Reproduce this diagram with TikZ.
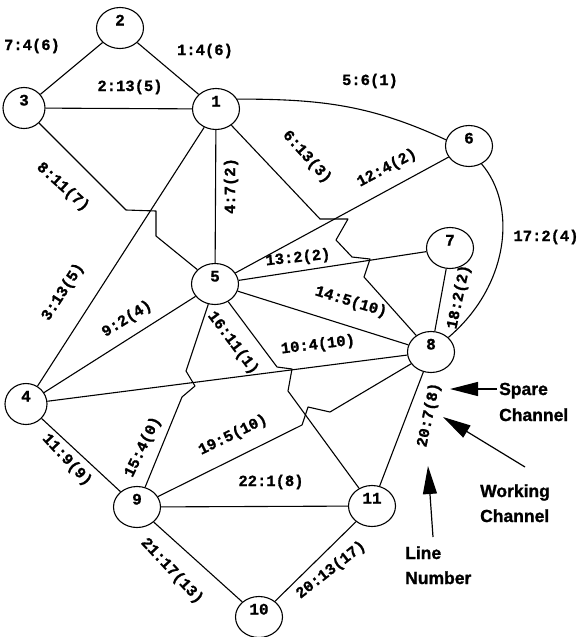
\documentclass[tikz,border=0pt]{standalone}
\usepackage{fontspec}
\setmainfont{Liberation Sans}[BoldFeatures={FakeBold=1.2}]
\newfontfamily\labfont{Liberation Mono}[BoldFeatures={FakeBold=1}]
\usetikzlibrary{shapes.geometric,arrows.meta}
\begin{document}
\begin{tikzpicture}[x=1pt,y=-1pt,
  nd/.style={draw, ellipse, line width=1.1pt, minimum width=47pt, minimum height=41pt, inner sep=0pt,
    font=\labfont\bfseries\fontsize{16}{16}\selectfont, text height=9pt, text depth=14pt},
  ndsmall/.style={nd, minimum width=42pt},
  ed/.style={line width=1.1pt, line join=round},
  lab/.style={font=\labfont\bfseries\fontsize{15.5}{15.5}\selectfont, inner sep=0pt},
  anno/.style={font=\bfseries\fontsize{17.5}{17.5}\selectfont, inner sep=0pt},
  bigarrow/.style={line width=1.2pt, -{Triangle[length=28pt,width=14pt]}}
]
\fill[white] (0,0) rectangle (582,637);
\useasboundingbox (0,0) rectangle (582,637);

% nodes
\node[nd] (n1) at (216,109) {1};
\node[nd] (n2) at (120,28) {2};
\node[ndsmall] (n3) at (24,108) {3};
\node[ndsmall] (n4) at (26,404) {4};
\node[nd] (n5) at (215,284) {5};
\node[nd] (n6) at (469,146) {6};
\node[nd] (n7) at (450,248) {7};
\node[nd] (n8) at (431,352) {8};
\node[nd] (n9) at (137,507) {9};
\node[nd] (n10) at (259,617) {10};
\node[nd] (n11) at (372,506) {11};

% straight links
\draw[ed] (n2) -- (n1);
\draw[ed] (n3) -- (n2);
\draw[ed] (n3) -- (n1);
\draw[ed] (n1) -- (n5);
\draw[ed] (n4) -- (n1);
\draw[ed] (n5) -- (n6);
\draw[ed] (n5) -- (n7);
\draw[ed] (n5) -- (n8);
\draw[ed] (n7) -- (n8);
\draw[ed] (n5) -- (n4);
\draw[ed] (n4) -- (n8);
\draw[ed] (n9) -- (n11);
\draw[ed] (n4) -- (n9);
\draw[ed] (n9) -- (n10);
\draw[ed] (n10) -- (n11);
\draw[ed] (n8) -- (n11);

% curved links
\draw[ed] (n1.25) .. controls (321,99) and (371,105) .. (n6.165);
\draw[ed] (n6.-55) .. controls (517,205) and (510,285) .. (n8.40);

% links with jogs
\draw[ed] (n3) -- (126,210) -- (156,211) -- (156,236) -- (n5);
\draw[ed] (n1) -- (320,219) -- (348,219) -- (336,240) -- (352,257) -- (370,259) -- (364,277) -- (n8);
\draw[ed] (n5) -- (186,371) -- (195,386) -- (182,397) -- (n9);
\draw[ed] (n5) -- (277,367) -- (292,369) -- (288,391) -- (n11);
\draw[ed] (n9) -- (302,425) -- (308,407) -- (330,412) -- (n8);

% link labels
\node[lab] (l1) at (205,51) {1:4(6)};
\node[lab] (l7) at (32,46) {7:4(6)};
\node[lab] (l2) at (130,87) {2:13(5)};
\node[lab, rotate=90] (l4) at (231,186) {4:7(2)};
\node[lab, rotate=-42] (l8) at (63,187) {8:11(7)};
\node[lab, rotate=57] (l3) at (63,292) {3:13(5)};
\node[lab, rotate=-48] (l6) at (307,157) {6:13(3)};
\node[lab] (l5) at (370,81) {5:6(1)};
\node[lab, rotate=28] (l12) at (387,168) {12:4(2)};
\node[lab, rotate=6] (l13) at (298,258) {13:2(2)};
\node[lab, rotate=-17] (l14) at (351,302) {14:5(10)};
\node[lab] (l17) at (546,237) {17:2(4)};
\node[lab, rotate=78] (l18) at (459,297) {18:2(2)};
\node[lab, rotate=32] (l9) at (127,319) {9:2(4)};
\node[lab, rotate=7] (l10) at (318,345) {10:4(10)};
\node[lab, rotate=64] (l15) at (143,447) {15:4(0)};
\node[lab, rotate=-53] (l16) at (233,343) {16:11(1)};
\node[lab, rotate=26] (l19) at (233,435) {19:5(10)};
\node[lab] (l22) at (271,482) {22:1(8)};
\node[lab, rotate=-47] (l11) at (67,460) {11:9(9)};
\node[lab, rotate=-47] (l21) at (172,571) {21:17(13)};
\node[lab, rotate=38] (l20b) at (331,570) {20:13(17)};
\node[lab, rotate=78] (l20) at (429,415) {20:7(8)};

% annotations
\node[anno, anchor=base west] (sp1) at (499,395) {Spare};
\node[anno, anchor=base west] (sp2) at (499,421) {Channel};
\node[anno, anchor=base west] (wk1) at (480,497) {Working};
\node[anno, anchor=base west] (wk2) at (480,522) {Channel};
\node[anno, anchor=base west] (ln1) at (405,559) {Line};
\node[anno, anchor=base west] (ln2) at (405,584) {Number};

\coordinate (spTail) at (497,389);
\coordinate (spTip) at (450,389);
\coordinate (wkTail) at (525,467);
\coordinate (wkTip) at (443,417);
\coordinate (lnTail) at (433,537);
\coordinate (lnTip) at (428,466);
\draw[bigarrow] (spTail) -- (spTip);
\draw[bigarrow] (wkTail) -- (wkTip);
\draw[bigarrow] (lnTail) -- (lnTip);
\end{tikzpicture}
\end{document}
